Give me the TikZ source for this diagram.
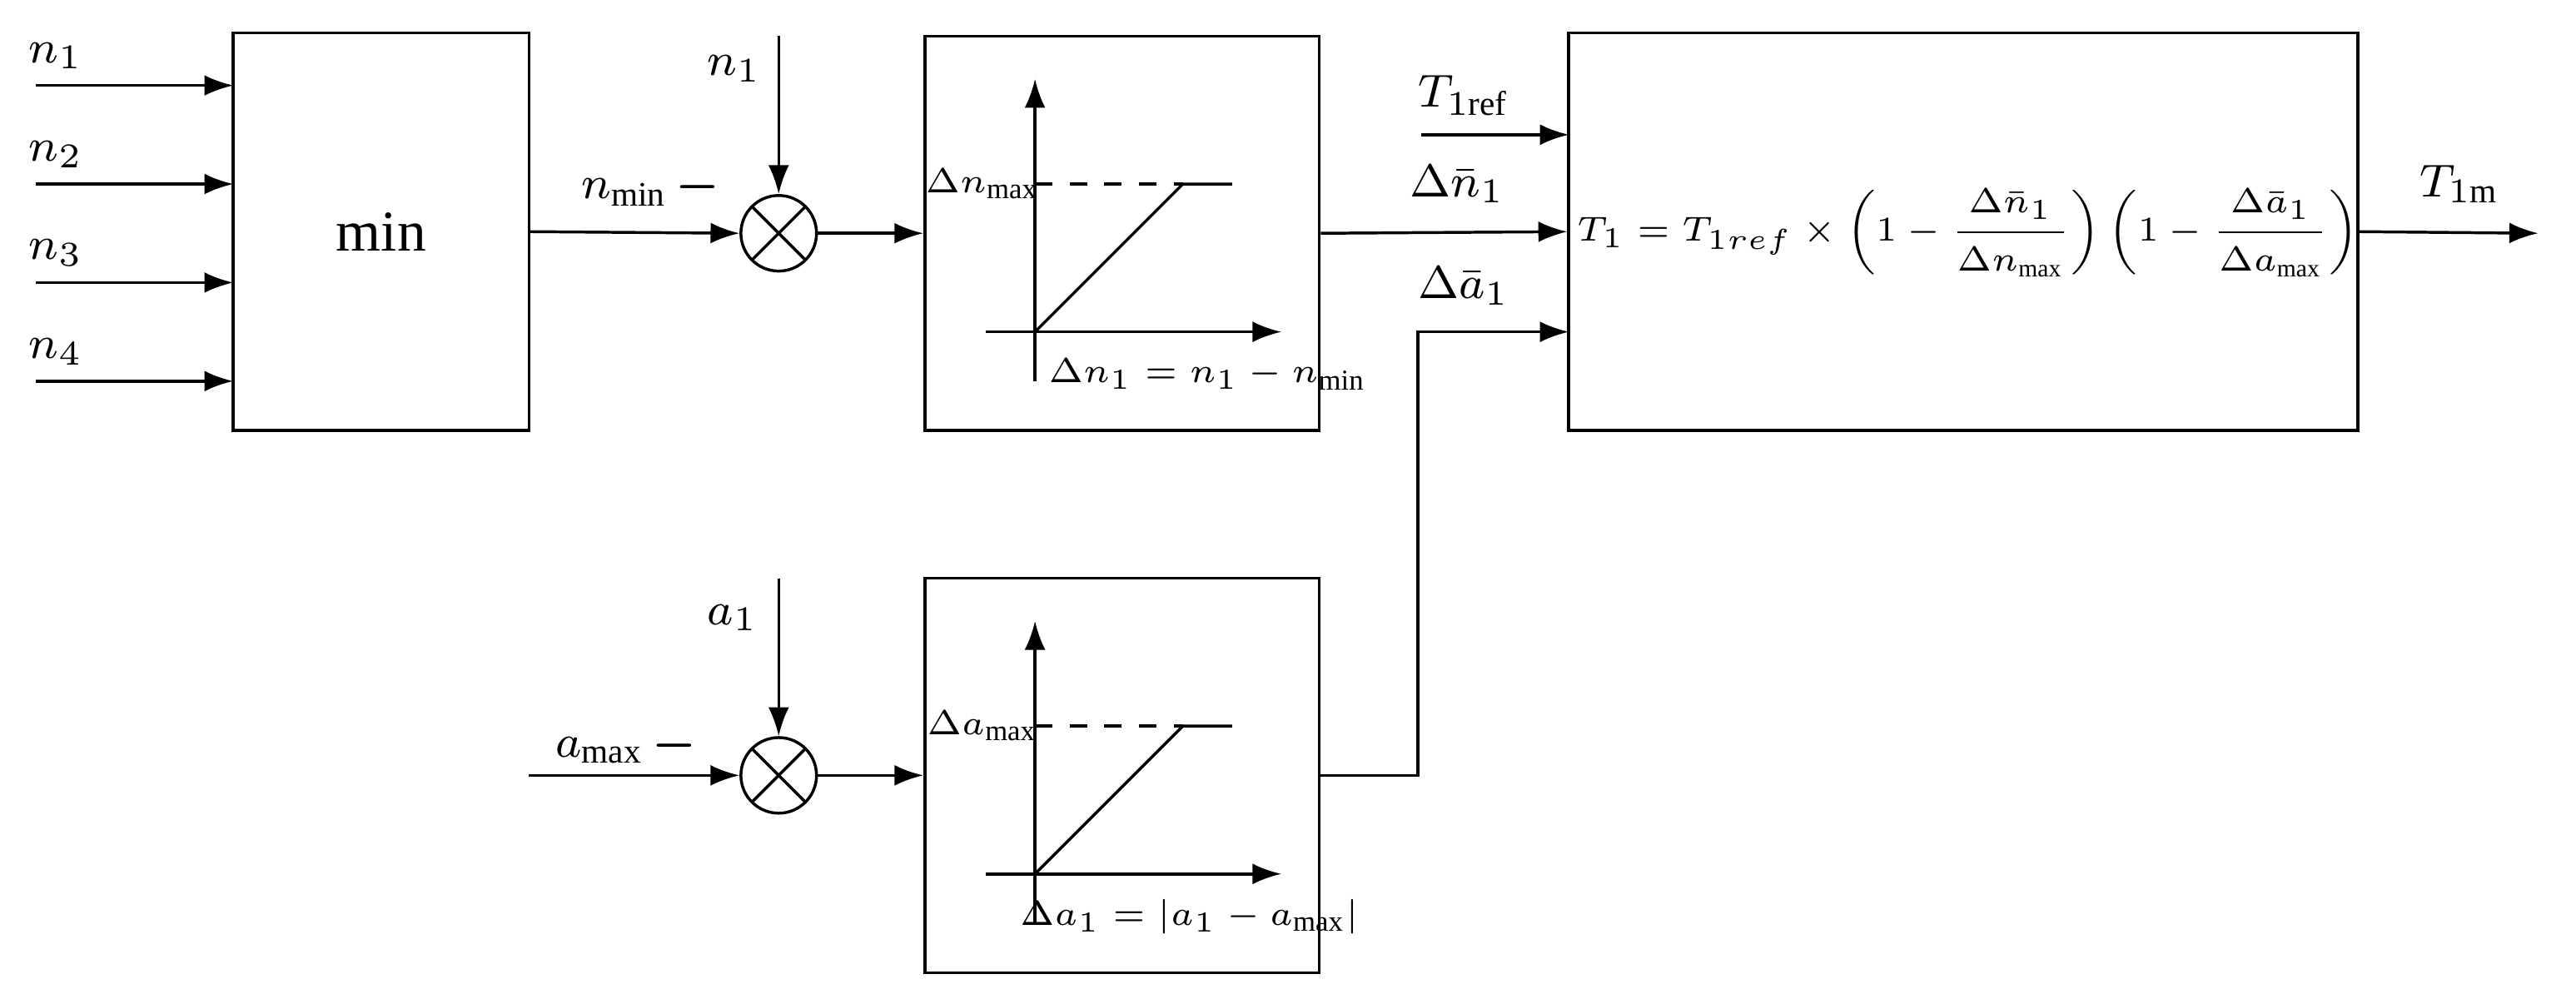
\documentclass[tikz,border=0pt]{standalone}
\usepackage{fontspec}
\setmainfont{Liberation Serif}
\usepackage{amsmath}
\usetikzlibrary{arrows.meta}
\begin{document}
\begin{tikzpicture}[x=0.01cm,y=-0.01cm,
  blk/.style={draw,line width=0.5pt,inner sep=0},
  arr/.style={-{Latex[length=5pt,width=3.6pt]},line width=0.5pt},
  ln/.style={line width=0.5pt},
  lab/.style={font=\fontsize{8.5}{10}\selectfont,inner sep=1pt},
  sm/.style={font=\fontsize{6}{7}\selectfont},
  sum/.style={draw,circle,minimum size=0.46cm,inner sep=0,line width=0.5pt,
    path picture={\draw[line width=0.5pt] (path picture bounding box.north west)--(path picture bounding box.south east) (path picture bounding box.north east)--(path picture bounding box.south west);}}]
\useasboundingbox (0,0) rectangle (1568,608);
% min block
\node[blk,minimum width=1.8cm,minimum height=2.42cm] (mn) at (232,141) {\fontsize{10}{12}\selectfont min};
\foreach \i/\y in {1/52,2/112,3/172,4/232}{
  \coordinate (in\i) at (22,\y);
  \draw[arr] (in\i) -- (142,\y);
  \node[lab] at (34,\y-18) {$n_{\i}$};}
% sum 1
\node[sum] (s1) at (474,142) {};
\coordinate (n1t) at (474,22);
\draw[arr] (n1t) -- (s1.north);
\node[lab] at (447,42) {$n_1$};
\draw[arr] (mn.east) -- (s1.west);
\node[lab] at (396,114) {$n_{\min}\,\boldsymbol{-}$};
% box2
\node[blk,minimum width=2.4cm,minimum height=2.4cm] (b2) at (683,142) {};
\draw[arr] (s1.east) -- (b2.west);
\draw[arr] (630,232) -- (630,48);
\draw[arr] (600,202) -- (780,202);
\draw[ln,dashed] (630,112) -- (720,112);
\draw[ln] (630,202) -- (720,112) -- (750,112);
\node[sm] at (598,112) {$\Delta n_{\max}$};
\node[sm] at (735,228) {$\Delta n_1 = n_1 - n_{\min}$};
% big box
\node[blk,minimum width=4.8cm,minimum height=2.42cm] (bb) at (1195,141) {};
\node[font=\fontsize{6.1}{8}\selectfont,inner sep=0] at (1198,142) {$T_1 = T_{1ref}\times\left(1-\dfrac{\Delta\bar n_1}{\Delta n_{\max}}\right)\left(1-\dfrac{\Delta\bar a_1}{\Delta a_{\max}}\right)$};
\draw[arr] (b2.east) -- (bb.west);
\node[lab] at (887,112) {$\Delta\bar n_1$};
\coordinate (tr) at (865,82);
\draw[arr] (tr) -- (955,82);
\node[lab] at (891,58) {$T_{1\mathrm{ref}}$};
\coordinate (tm) at (1545,142);
\draw[arr] (bb.east) -- (tm);
\node[lab] at (1497,112) {$T_{1\mathrm{m}}$};
% lower
\node[sum] (s2) at (474,472) {};
\coordinate (a1t) at (474,352);
\draw[arr] (a1t) -- (s2.north);
\node[lab] at (446,376) {$a_1$};
\coordinate (am) at (322,472);
\draw[arr] (am) -- (s2.west);
\node[lab] at (381,454) {$a_{\max}\,\boldsymbol{-}$};
\node[blk,minimum width=2.4cm,minimum height=2.4cm] (b3) at (683,472) {};
\draw[arr] (s2.east) -- (b3.west);
\draw[arr] (630,562) -- (630,378);
\draw[arr] (600,532) -- (780,532);
\draw[ln,dashed] (630,442) -- (720,442);
\draw[ln] (630,532) -- (720,442) -- (750,442);
\node[sm] at (598,442) {$\Delta a_{\max}$};
\node[sm] at (724,558) {$\Delta a_1 = \left|a_1 - a_{\max}\right|$};
\draw[arr] (b3.east) -- (863,472) -- (863,202) -- (955,202);
\node[lab] at (891,174) {$\Delta\bar a_1$};
\end{tikzpicture}
\end{document}
